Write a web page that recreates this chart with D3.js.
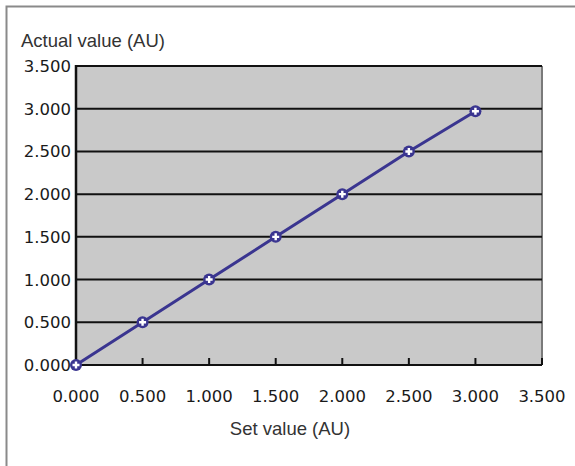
<!DOCTYPE html>
<html><head><meta charset="utf-8">
<script src="https://cdn.jsdelivr.net/npm/d3@7"></script>
<style>body{margin:0;background:#fff}svg{display:block}</style>
</head><body>
<svg id="c" width="575" height="466"></svg>
<script>
const setValues = [0, 0.5, 1.0, 1.5, 2.0, 2.5, 3.0];
const actualValues = [0, 0.5, 1.0, 1.5, 2.0, 2.5, 2.97];
const tickValues = [0, 0.5, 1.0, 1.5, 2.0, 2.5, 3.0, 3.5];
const xTitle = "Set value (AU)";
const yTitle = "Actual value (AU)";

const svg = d3.select("#c");
const m = {l: 76, r: 542, t: 66, b: 365};
const x = d3.scaleLinear().domain([0, 3.5]).range([m.l, m.r]);
const y = d3.scaleLinear().domain([0, 3.5]).range([m.b, m.t]);
const fmt = d3.format(".3f");

// outer frame
svg.append("path").attr("d", "M6.5,466 V6.5 H575").attr("fill", "none").attr("stroke", "#8a8a8a").attr("stroke-width", 2);

// plot background
svg.append("rect").attr("x", m.l).attr("y", m.t).attr("width", m.r - m.l).attr("height", m.b - m.t).attr("fill", "#c9c9c9");
svg.append("line").attr("x1", m.r).attr("x2", m.r).attr("y1", m.t).attr("y2", m.b).attr("stroke", "#7a7a7a").attr("stroke-width", 2);

// gridlines
svg.append("g").selectAll("line").data(tickValues).join("line")
  .attr("x1", m.l).attr("x2", m.r).attr("y1", d => y(d)).attr("y2", d => y(d))
  .attr("stroke", "#111").attr("stroke-width", 2);

// x axis ticks (inward)
svg.append("g").selectAll("line").data(tickValues).join("line")
  .attr("x1", d => x(d)).attr("x2", d => x(d)).attr("y1", m.b).attr("y2", m.b - 7)
  .attr("stroke", "#111").attr("stroke-width", 2);
// left axis
svg.append("line").attr("x1", m.l).attr("x2", m.l).attr("y1", m.t - 1).attr("y2", m.b + 1).attr("stroke", "#111").attr("stroke-width", 2.5);

// tick labels
svg.append("g").selectAll("text").data(tickValues).join("text")
  .attr("x", 71).attr("y", d => y(d)).attr("dy", "0.36em").attr("text-anchor", "end")
  .attr("font-family", "DejaVu Sans, Verdana, sans-serif").attr("font-size", 16.5).attr("fill", "#1a1a1a")
  .text(d => fmt(d));
svg.append("g").selectAll("text").data(tickValues).join("text")
  .attr("x", d => x(d)).attr("y", 402).attr("text-anchor", "middle")
  .attr("font-family", "DejaVu Sans, Verdana, sans-serif").attr("font-size", 16.5).attr("fill", "#1a1a1a")
  .text(d => fmt(d));

// titles
svg.append("text").attr("x", 21).attr("y", 47).attr("font-family", "Liberation Sans, Arial, sans-serif")
  .attr("font-size", 18.5).attr("fill", "#333").text(yTitle);
svg.append("text").attr("x", 290).attr("y", 435).attr("text-anchor", "middle").attr("font-family", "Liberation Sans, Arial, sans-serif")
  .attr("font-size", 18.5).attr("fill", "#333").text(xTitle);

// line
const pts = setValues.map((v, i) => [v, actualValues[i]]);
svg.append("path").datum(pts)
  .attr("d", d3.line().x(d => x(d[0])).y(d => y(d[1])))
  .attr("fill", "none").attr("stroke", "#3a3590").attr("stroke-width", 3);

// markers
const mk = svg.append("g").selectAll("g").data(pts).join("g")
  .attr("transform", d => `translate(${x(d[0])},${y(d[1])})`);
mk.append("circle").attr("r", 6).attr("fill", "#3a3590");
mk.append("path").attr("d", "M-3.5,0H3.5M0,-3.5V3.5").attr("stroke", "#fff").attr("stroke-width", 2.4);
</script>
</body></html>
